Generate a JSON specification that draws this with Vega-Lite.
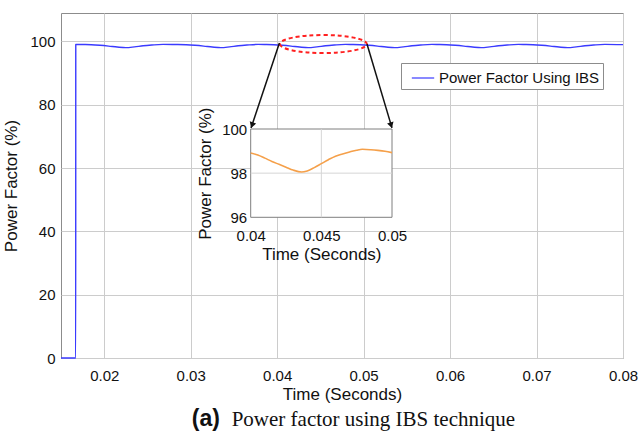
{
  "$schema": "https://vega.github.io/schema/vega-lite/v6.json",
  "width": 562,
  "height": 345,
  "autosize": {"type": "none"},
  "padding": {"left": 61, "top": 13, "right": 18, "bottom": 84},
  "background": "white",
  "config": {
    "view": {"stroke": "#8c8c8c", "strokeWidth": 1},
    "axis": {
      "labelFont": "Liberation Sans", "titleFont": "Liberation Sans",
      "labelColor": "#111111", "titleColor": "#111111",
      "labelFontSize": 15, "titleFontSize": 17, "titleFontWeight": "normal",
      "gridColor": "#cccccc", "domain": false, "ticks": false, "tickSize": 0,
      "labelFlush": false, "labelOverlap": false
    }
  },
  "datasets": {
    "pf": [
      {"i": 0, "t": 0.015, "pf": 0},
      {"i": 1, "t": 0.0167, "pf": 0},
      {"i": 2, "t": 0.01671, "pf": 99.1},
      {"i": 3, "t": 0.0175, "pf": 99.05},
      {"i": 4, "t": 0.0185, "pf": 98.98},
      {"i": 5, "t": 0.0195, "pf": 98.8},
      {"i": 6, "t": 0.0205, "pf": 98.55},
      {"i": 7, "t": 0.0215, "pf": 98.25},
      {"i": 8, "t": 0.0225, "pf": 98.05},
      {"i": 9, "t": 0.0235, "pf": 98.3},
      {"i": 10, "t": 0.0245, "pf": 98.65},
      {"i": 11, "t": 0.0255, "pf": 98.88},
      {"i": 12, "t": 0.0268, "pf": 99.08},
      {"i": 13, "t": 0.0285, "pf": 99.05},
      {"i": 14, "t": 0.0295, "pf": 98.98},
      {"i": 15, "t": 0.0305, "pf": 98.8},
      {"i": 16, "t": 0.0315, "pf": 98.55},
      {"i": 17, "t": 0.0325, "pf": 98.25},
      {"i": 18, "t": 0.0335, "pf": 98.05},
      {"i": 19, "t": 0.0345, "pf": 98.3},
      {"i": 20, "t": 0.0355, "pf": 98.65},
      {"i": 21, "t": 0.0365, "pf": 98.88},
      {"i": 22, "t": 0.0378, "pf": 99.08},
      {"i": 23, "t": 0.0386, "pf": 99.05},
      {"i": 24, "t": 0.0396, "pf": 98.98},
      {"i": 25, "t": 0.0406, "pf": 98.8},
      {"i": 26, "t": 0.0416, "pf": 98.55},
      {"i": 27, "t": 0.0426, "pf": 98.25},
      {"i": 28, "t": 0.0436, "pf": 98.05},
      {"i": 29, "t": 0.0446, "pf": 98.3},
      {"i": 30, "t": 0.0456, "pf": 98.65},
      {"i": 31, "t": 0.0466, "pf": 98.88},
      {"i": 32, "t": 0.0479, "pf": 99.08},
      {"i": 33, "t": 0.0486, "pf": 99.05},
      {"i": 34, "t": 0.0496, "pf": 98.98},
      {"i": 35, "t": 0.0506, "pf": 98.8},
      {"i": 36, "t": 0.0516, "pf": 98.55},
      {"i": 37, "t": 0.0526, "pf": 98.25},
      {"i": 38, "t": 0.0536, "pf": 98.05},
      {"i": 39, "t": 0.0546, "pf": 98.3},
      {"i": 40, "t": 0.0556, "pf": 98.65},
      {"i": 41, "t": 0.0566, "pf": 98.88},
      {"i": 42, "t": 0.0579, "pf": 99.08},
      {"i": 43, "t": 0.0586, "pf": 99.05},
      {"i": 44, "t": 0.0596, "pf": 98.98},
      {"i": 45, "t": 0.0606, "pf": 98.8},
      {"i": 46, "t": 0.0616, "pf": 98.55},
      {"i": 47, "t": 0.0626, "pf": 98.25},
      {"i": 48, "t": 0.0636, "pf": 98.05},
      {"i": 49, "t": 0.0646, "pf": 98.3},
      {"i": 50, "t": 0.0656, "pf": 98.65},
      {"i": 51, "t": 0.0666, "pf": 98.88},
      {"i": 52, "t": 0.0679, "pf": 99.08},
      {"i": 53, "t": 0.0686, "pf": 99.05},
      {"i": 54, "t": 0.0696, "pf": 98.98},
      {"i": 55, "t": 0.0706, "pf": 98.8},
      {"i": 56, "t": 0.0716, "pf": 98.55},
      {"i": 57, "t": 0.0726, "pf": 98.25},
      {"i": 58, "t": 0.0736, "pf": 98.05},
      {"i": 59, "t": 0.0746, "pf": 98.3},
      {"i": 60, "t": 0.0756, "pf": 98.65},
      {"i": 61, "t": 0.0766, "pf": 98.88},
      {"i": 62, "t": 0.0779, "pf": 99.08},
      {"i": 63, "t": 0.08, "pf": 99.0}
    ],
    "zoom": [
      {"t": 0.04, "pf": 98.91},
      {"t": 0.0405, "pf": 98.82},
      {"t": 0.041, "pf": 98.68},
      {"t": 0.0415, "pf": 98.53},
      {"t": 0.042, "pf": 98.4},
      {"t": 0.0425, "pf": 98.27},
      {"t": 0.043, "pf": 98.14},
      {"t": 0.0436, "pf": 98.05},
      {"t": 0.044, "pf": 98.1},
      {"t": 0.0445, "pf": 98.25},
      {"t": 0.045, "pf": 98.43},
      {"t": 0.0455, "pf": 98.61},
      {"t": 0.046, "pf": 98.77},
      {"t": 0.0465, "pf": 98.87},
      {"t": 0.047, "pf": 98.96},
      {"t": 0.0475, "pf": 99.04},
      {"t": 0.0479, "pf": 99.08},
      {"t": 0.0485, "pf": 99.06},
      {"t": 0.049, "pf": 99.03},
      {"t": 0.0495, "pf": 98.99},
      {"t": 0.05, "pf": 98.93}
    ],
    "arrows": [
      {"x": 0.04026, "y": 99.5, "x2": 0.03698, "y2": 72.7, "hx": 0.03709, "hy": 73.55, "ang": 19},
      {"x": 0.05039, "y": 99.2, "x2": 0.05328, "y2": 72.7, "hx": 0.05318, "hy": 73.55, "ang": -16.6}
    ],
    "ellipse": [{"x": 0.04534, "y": 99.2}],
    "caption": [
      {"x": 0.03012, "y": -21.5, "txt": "(a)"},
      {"x": 0.03474, "y": -21.5, "txt": "Power factor using IBS technique"}
    ],
    "box": [{"x": 0.04, "x2": 0.05, "y": 96, "y2": 100}],
    "igrid": [
      {"x": 0.045, "x2": 0.045, "y": 96, "y2": 100},
      {"x": 0.04, "x2": 0.05, "y": 98, "y2": 98}
    ]
  },
  "layer": [
    {
      "data": {"name": "pf"},
      "mark": {"type": "line", "strokeWidth": 1.4, "interpolate": "monotone"},
      "encoding": {
        "x": {"field": "t", "type": "quantitative",
          "scale": {"domain": [0.015, 0.08], "nice": false, "zero": false},
          "axis": {"values": [0.02, 0.03, 0.04, 0.05, 0.06, 0.07, 0.08], "format": "~g", "title": "Time (Seconds)", "labelPadding": 10, "titlePadding": 3, "grid": true}},
        "y": {"field": "pf", "type": "quantitative",
          "scale": {"domain": [0, 109], "nice": false, "zero": false},
          "axis": {"values": [0, 20, 40, 60, 80, 100], "title": "Power Factor (%)", "labelPadding": 6, "titlePadding": 9, "grid": true}},
        "order": {"field": "i", "type": "quantitative"},
        "color": {"datum": "Power Factor Using IBS", "type": "nominal",
          "scale": {"range": ["#3a3aff"]},
          "legend": {"title": null, "orient": "none", "legendX": 340, "legendY": 50,
            "strokeColor": "#8c8c8c", "fillColor": "white", "padding": 3,
            "symbolType": "stroke", "symbolSize": 500, "symbolStrokeWidth": 1.2, "symbolOffset": 7,
            "labelFont": "Liberation Sans", "labelFontSize": 15, "labelColor": "#111111", "labelOffset": 4,
            "labelLimit": 400,
            "labelExpr": "datum.label + '\u00a0\u00a0'"}}
      }
    },
    {
      "data": {"name": "ellipse"},
      "mark": {"type": "point", "shape": "M -1 0 A 1 0.207 0 1 0 1 0 A 1 0.207 0 1 0 -1 0 Z", "size": 7569, "filled": false, "stroke": "#ff2020", "strokeWidth": 2, "strokeDash": [4, 3], "opacity": 1},
      "encoding": {
        "x": {"field": "x", "type": "quantitative", "scale": {"domain": [0.015, 0.08], "nice": false, "zero": false}, "axis": null},
        "y": {"field": "y", "type": "quantitative", "scale": {"domain": [0, 109], "nice": false, "zero": false}, "axis": null}
      }
    },
    {
      "data": {"name": "arrows"},
      "mark": {"type": "rule", "color": "#111111", "strokeWidth": 1.5},
      "encoding": {
        "x": {"field": "x", "type": "quantitative", "scale": {"domain": [0.015, 0.08], "nice": false, "zero": false}, "axis": null},
        "y": {"field": "y", "type": "quantitative", "scale": {"domain": [0, 109], "nice": false, "zero": false}, "axis": null},
        "x2": {"field": "x2"},
        "y2": {"field": "y2"}
      }
    },
    {
      "data": {"name": "arrows"},
      "mark": {"type": "point", "shape": "triangle-down", "filled": true, "color": "#111111", "size": 45, "opacity": 1},
      "encoding": {
        "x": {"field": "hx", "type": "quantitative", "scale": {"domain": [0.015, 0.08], "nice": false, "zero": false}, "axis": null},
        "y": {"field": "hy", "type": "quantitative", "scale": {"domain": [0, 109], "nice": false, "zero": false}, "axis": null},
        "angle": {"field": "ang", "type": "quantitative", "scale": null}
      }
    },
    {
      "data": {"name": "caption"},
      "transform": [{"filter": "datum.txt == '(a)'"}],
      "mark": {"type": "text", "align": "left", "baseline": "alphabetic", "font": "Liberation Sans", "fontWeight": "bold", "fontSize": 23, "color": "#111111"},
      "encoding": {
        "x": {"field": "x", "type": "quantitative", "scale": {"domain": [0.015, 0.08], "nice": false, "zero": false}, "axis": null},
        "y": {"field": "y", "type": "quantitative", "scale": {"domain": [0, 109], "nice": false, "zero": false}, "axis": null},
        "text": {"field": "txt"}
      }
    },
    {
      "data": {"name": "caption"},
      "transform": [{"filter": "datum.txt != '(a)'"}],
      "mark": {"type": "text", "align": "left", "baseline": "alphabetic", "font": "Liberation Serif", "fontSize": 21, "color": "#111111"},
      "encoding": {
        "x": {"field": "x", "type": "quantitative", "scale": {"domain": [0.015, 0.08], "nice": false, "zero": false}, "axis": null},
        "y": {"field": "y", "type": "quantitative", "scale": {"domain": [0, 109], "nice": false, "zero": false}, "axis": null},
        "text": {"field": "txt"}
      }
    },
    {
      "data": {"name": "box"},
      "mark": {"type": "rect", "fill": "white", "stroke": "#7f7f7f", "strokeWidth": 1},
      "encoding": {
        "x": {"field": "x", "type": "quantitative",
          "scale": {"domain": [0.04, 0.05], "range": [189.7, 331], "nice": false, "zero": false},
          "axis": {"orient": "bottom", "offset": -140.7, "values": [0.04, 0.045, 0.05], "format": "~g", "title": "Time (Seconds)", "grid": false, "labelPadding": 11, "titlePadding": 3}},
        "x2": {"field": "x2"},
        "y": {"field": "y", "type": "quantitative",
          "scale": {"domain": [96, 100], "range": [204.3, 116], "nice": false, "zero": false},
          "axis": {"orient": "left", "offset": -189.7, "values": [96, 98, 100], "title": "Power Factor (%)", "grid": false, "labelPadding": 4, "titlePadding": 7}},
        "y2": {"field": "y2"}
      }
    },
    {
      "data": {"name": "igrid"},
      "mark": {"type": "rule", "color": "#d6d6d6", "strokeWidth": 1},
      "encoding": {
        "x": {"field": "x", "type": "quantitative", "scale": {"domain": [0.04, 0.05], "range": [189.7, 331], "nice": false, "zero": false}, "axis": null},
        "x2": {"field": "x2"},
        "y": {"field": "y", "type": "quantitative", "scale": {"domain": [96, 100], "range": [204.3, 116], "nice": false, "zero": false}, "axis": null},
        "y2": {"field": "y2"}
      }
    },
    {
      "data": {"name": "zoom"},
      "mark": {"type": "line", "color": "#f5a04a", "strokeWidth": 1.6, "interpolate": "monotone"},
      "encoding": {
        "x": {"field": "t", "type": "quantitative", "scale": {"domain": [0.04, 0.05], "range": [189.7, 331], "nice": false, "zero": false}, "axis": null},
        "y": {"field": "pf", "type": "quantitative", "scale": {"domain": [96, 100], "range": [204.3, 116], "nice": false, "zero": false}, "axis": null}
      }
    }
  ],
  "resolve": {"scale": {"x": "independent", "y": "independent", "color": "independent"}}
}
